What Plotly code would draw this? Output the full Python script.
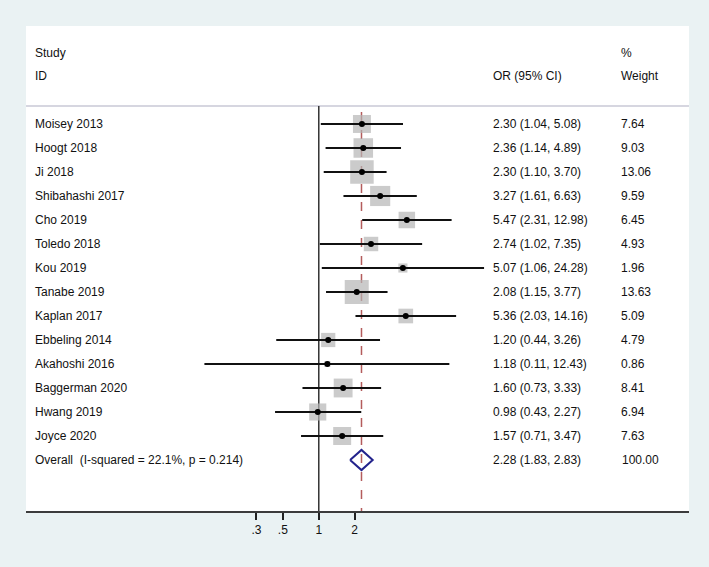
import plotly.graph_objects as go

# ---- data ----
studies = ["Moisey 2013", "Hoogt 2018", "Ji 2018", "Shibahashi 2017", "Cho 2019",
           "Toledo 2018", "Kou 2019", "Tanabe 2019", "Kaplan 2017", "Ebbeling 2014",
           "Akahoshi 2016", "Baggerman 2020", "Hwang 2019", "Joyce 2020"]
or_vals = [2.30, 2.36, 2.30, 3.27, 5.47, 2.74, 5.07, 2.08, 5.36, 1.20, 1.18, 1.60, 0.98, 1.57]
ci_low = [1.04, 1.14, 1.10, 1.61, 2.31, 1.02, 1.06, 1.15, 2.03, 0.44, 0.11, 0.73, 0.43, 0.71]
ci_high = [5.08, 4.89, 3.70, 6.63, 12.98, 7.35, 24.28, 3.77, 14.16, 3.26, 12.43, 3.33, 2.27, 3.47]
weights = [7.64, 9.03, 13.06, 9.59, 6.45, 4.93, 1.96, 13.63, 5.09, 4.79, 0.86, 8.41, 6.94, 7.63]

overall_label = "Overall\u00a0\u00a0(I-squared = 22.1%, p = 0.214)"
overall_or = 2.28
overall_low = 1.83
overall_high = 2.83
overall_weight = 100.00

tick_vals = [0.3, 0.5, 1, 2]
tick_text = [".3", ".5", "1", "2"]
null_value = 1

# ---- layout constants ----
BG = "#eaf2f3"
FONT = "Liberation Sans, Arial, Helvetica, sans-serif"
n = len(studies)
rows = list(range(n))
overall_row = n
Y_TOP = -4.083
Y_BOT = 16.125
X_NAME = 0.0106
X_OR = 0.7014
X_W = 0.8944

fig = go.Figure()

# weight boxes
fig.add_trace(go.Scatter(
    x=or_vals, y=rows, mode="markers",
    marker=dict(symbol="square", size=[6.5 * w ** 0.5 for w in weights],
                color="#b5b5b5", line=dict(width=0)),
    hoverinfo="skip", showlegend=False))

# CI lines
lx, ly = [], []
for lo, hi, r in zip(ci_low, ci_high, rows):
    lx += [lo, hi, None]
    ly += [r, r, None]
fig.add_trace(go.Scatter(x=lx, y=ly, mode="lines",
                         line=dict(color="#111111", width=2),
                         hoverinfo="skip", showlegend=False))

# point estimates
fig.add_trace(go.Scatter(x=or_vals, y=rows, mode="markers",
                         marker=dict(symbol="circle", size=6, color="#000000"),
                         hoverinfo="skip", showlegend=False))

# overall diamond
dh = 0.42
fig.add_trace(go.Scatter(
    x=[overall_low, overall_or, overall_high, overall_or, overall_low],
    y=[overall_row, overall_row - dh, overall_row, overall_row + dh, overall_row],
    mode="lines", line=dict(color="#23238c", width=2),
    hoverinfo="skip", showlegend=False))

shapes = [
    # header separator
    dict(type="line", xref="paper", yref="y", x0=0, x1=1, y0=-0.75, y1=-0.75,
         line=dict(color="#c9c9d6", width=1.5), layer="below"),
    # null line
    dict(type="line", xref="x", yref="y", x0=null_value, x1=null_value,
         y0=-0.75, y1=Y_BOT, line=dict(color="#333333", width=1.5), layer="below"),
    # overall effect line
    dict(type="line", xref="x", yref="y", x0=overall_or, x1=overall_or,
         y0=-0.5, y1=Y_BOT, line=dict(color="#b45c5c", width=1.5, dash="dash"),
         layer="below"),
]

ann = []
def txt(x, y, s):
    ann.append(dict(x=x, y=y, xref="paper", yref="y", text=s, showarrow=False,
                    xanchor="left", yanchor="middle",
                    font=dict(family=FONT, size=12, color="#111111")))

txt(X_NAME, -2.96, "Study")
txt(X_NAME, -2.0, "ID")
txt(X_OR, -2.0, "OR (95% CI)")
txt(X_W, -2.96, "%")
txt(X_W, -2.0, "Weight")
for s, o, lo, hi, w, r in zip(studies, or_vals, ci_low, ci_high, weights, rows):
    txt(X_NAME, r, s)
    txt(X_OR, r, f"{o:.2f} ({lo:.2f}, {hi:.2f})")
    txt(X_W, r, f"{w:.2f}")
txt(X_NAME, overall_row, overall_label)
txt(X_OR, overall_row, f"{overall_or:.2f} ({overall_low:.2f}, {overall_high:.2f})")
txt(X_W + 0.002, overall_row, f"{overall_weight:.2f}")

fig.update_layout(
    width=709, height=567, autosize=False,
    margin=dict(l=26, r=20, t=26, b=56),
    paper_bgcolor=BG, plot_bgcolor="#ffffff",
    shapes=shapes, annotations=ann,
    font=dict(family=FONT, size=12, color="#111111"),
    xaxis=dict(type="log", range=[-2.454, 3.103], showgrid=False, zeroline=False,
               showline=True, linecolor="#3c3c3c", linewidth=2,
               ticks="outside", ticklen=7, tickwidth=1.5, tickcolor="#222222",
               tickvals=tick_vals, ticktext=tick_text,
               tickfont=dict(family=FONT, size=12, color="#111111")),
    yaxis=dict(range=[Y_BOT, Y_TOP], visible=False, showgrid=False, zeroline=False),
)

fig.write_html("out.html", config={"displayModeBar": False},
               post_script="document.body.style.margin='0';")
